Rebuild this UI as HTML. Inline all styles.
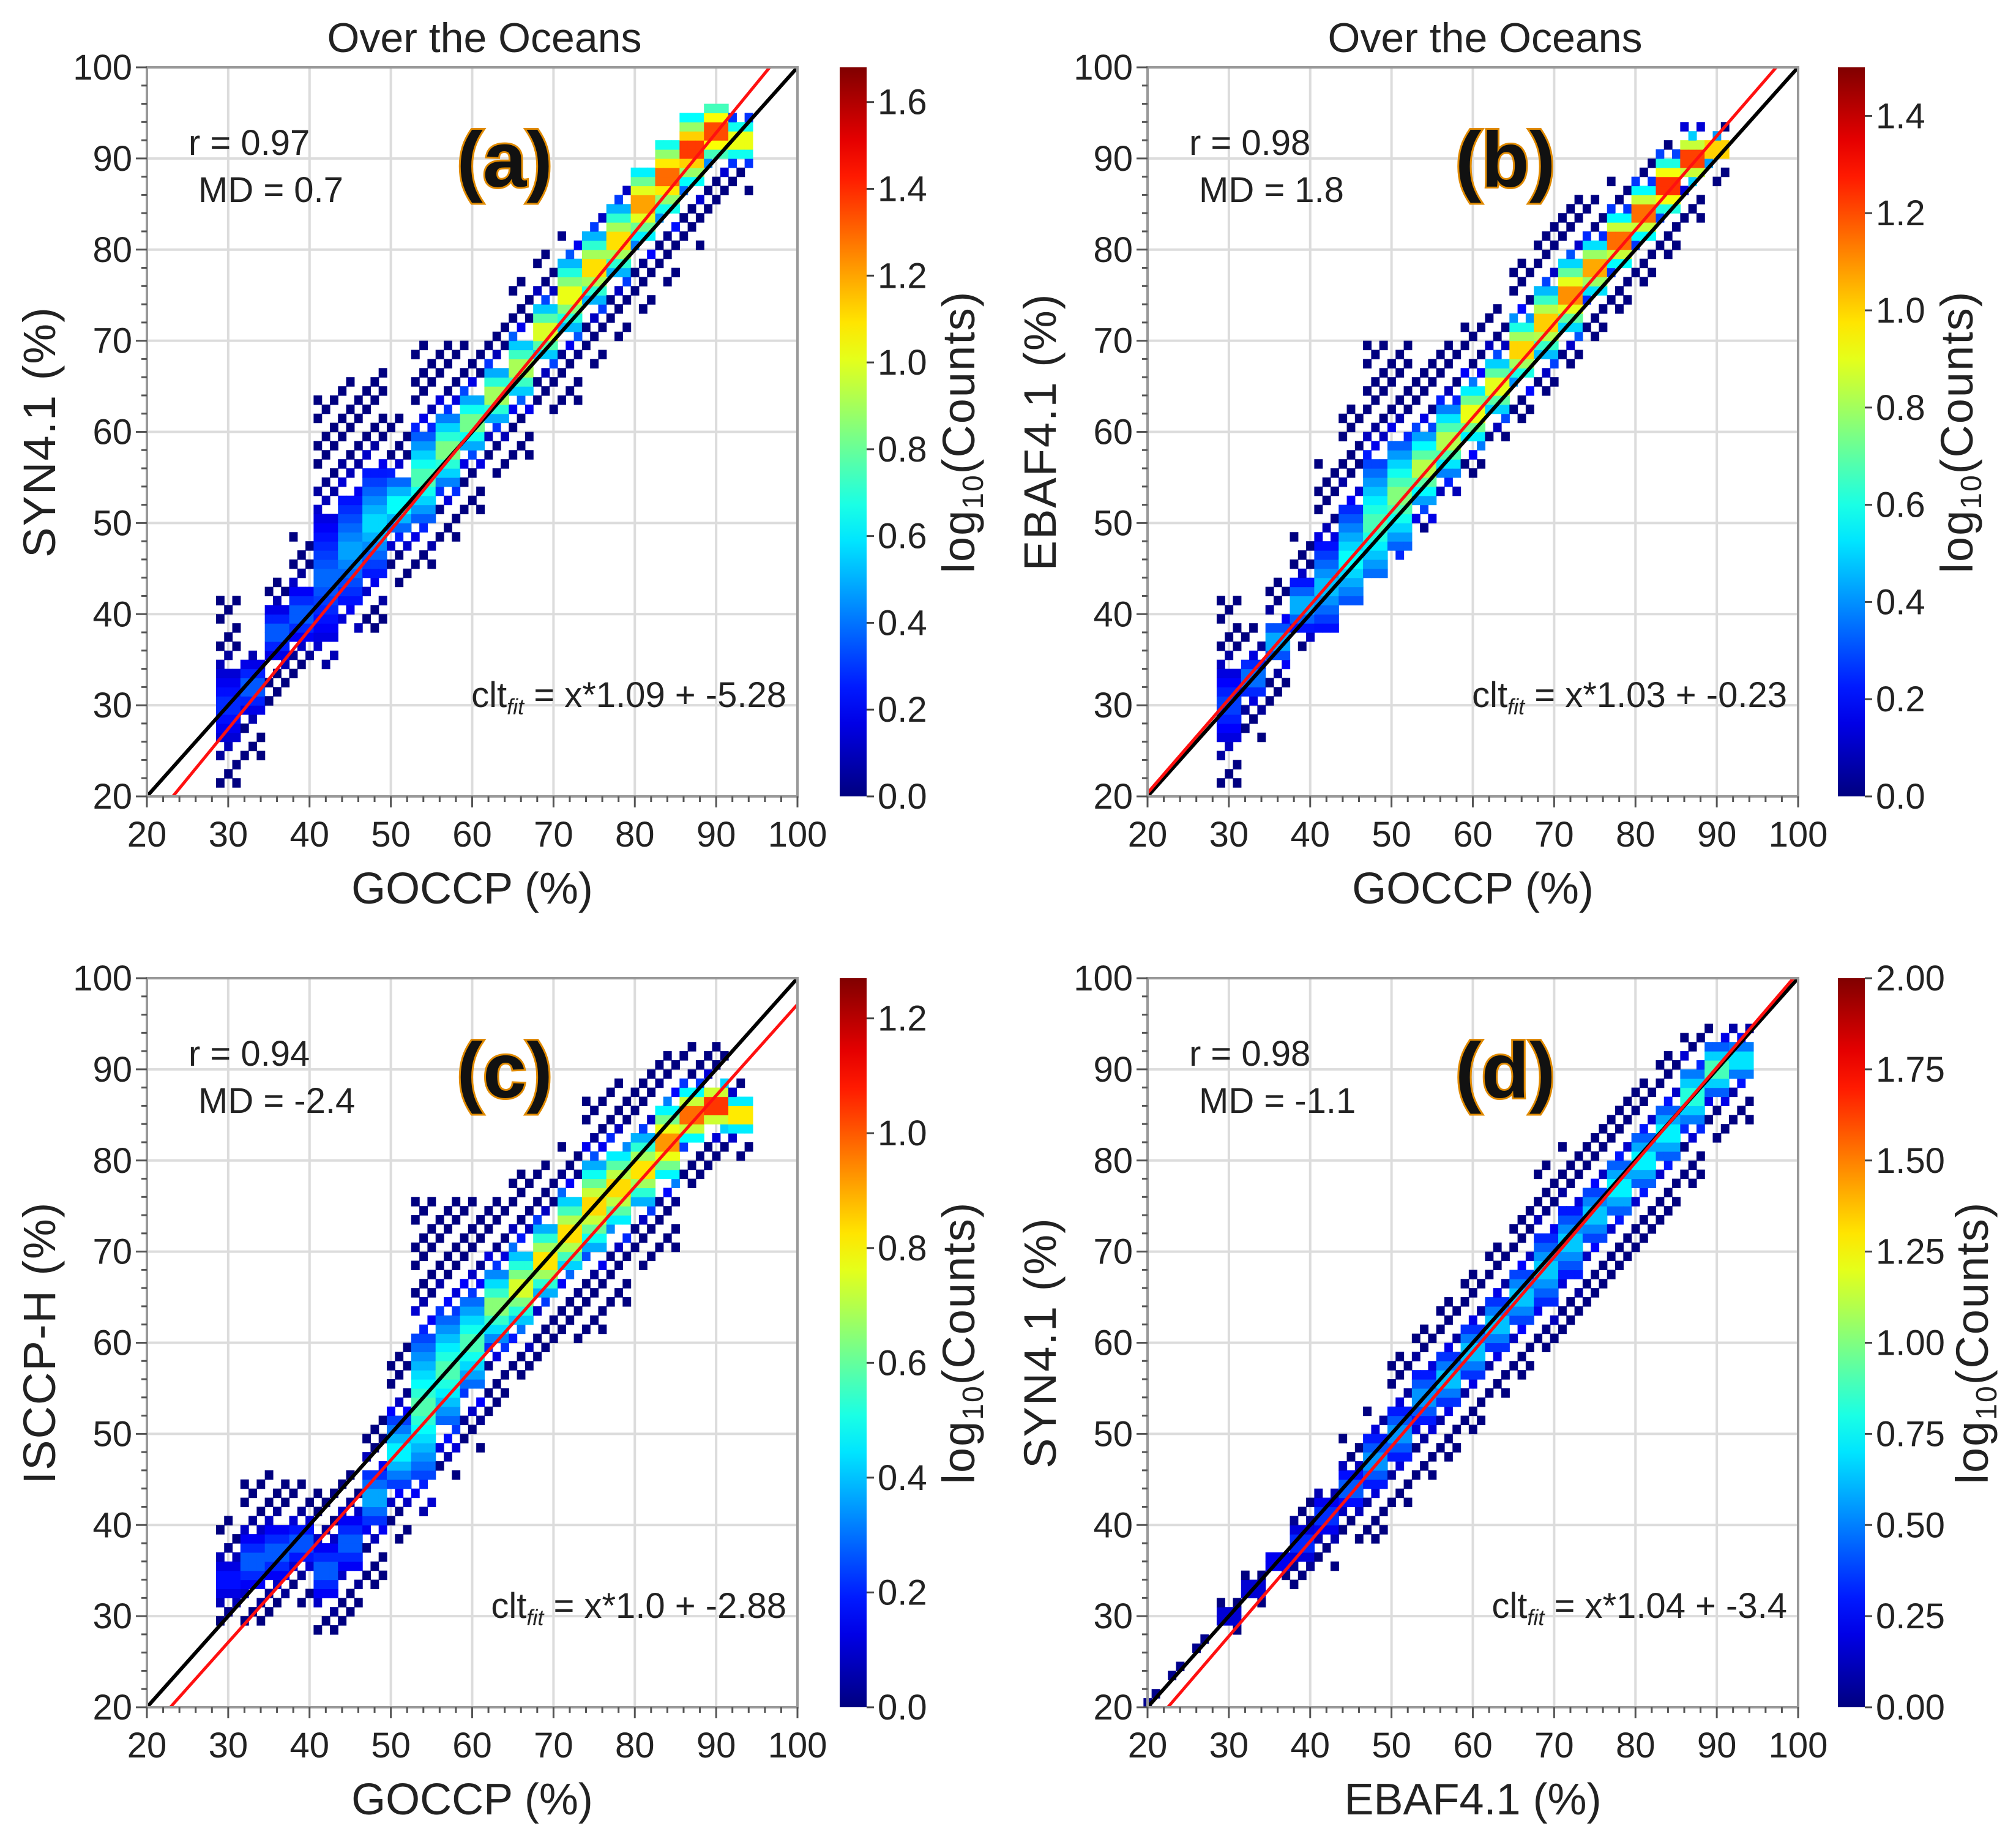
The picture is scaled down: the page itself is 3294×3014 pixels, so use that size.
<!DOCTYPE html>
<html><head><meta charset="utf-8">
<style>
html,body{margin:0;padding:0;background:#fff;}
svg text{font-family:"Liberation Sans Narrow","Liberation Sans",sans-serif;fill:#222;}
</style></head>
<body>
<svg id="fig" xmlns="http://www.w3.org/2000/svg" width="3294" height="3009" viewBox="0 0 3294 3009"></svg>
<script>
// ---- data: per-column summary of 2D histograms [x-bin centre], y low/high, ridge centre, peak log10(count)
const aX=[30,33,36,39,42,45,48,51,54,57,60,63,66,69,72,75,78,81,84,87,90,93];
const aLo=[21,24,30,33,34,38,38,43,45,48,51,55,57,62,63,67,70,73,76,80,84,86];
const aHi=[42,36,44,49,64,66,67,62,70,70,70,72,77,80,82,84,87,89,92,95,96,95];
const aMid=[30,32,38,40,44,47,50,52,55,58,61,64,67,71,75,78,81,85,88,91,93,92];
const aPeak=[0.3,0.4,0.4,0.4,0.4,0.5,0.6,0.7,0.8,0.9,0.9,1.0,1.0,1.1,1.1,1.2,1.2,1.3,1.4,1.5,1.5,1.2];

const bX=[30,33,36,39,42,45,48,51,54,57,60,63,66,69,72,75,78,81,84,87,90];
const bLo=[21,26,30,36,38,41,44,46,49,53,55,59,61,64,67,70,73,76,79,83,87];
const bHi=[42,39,44,49,57,63,70,70,68,70,72,74,79,83,86,86,88,90,92,94,94];
const bMid=[30,33,37,41,43,46,50,53,56,59,62,65,69,72,75,78,81,84,87,90,91];
const bPeak=[0.3,0.4,0.5,0.5,0.5,0.6,0.7,0.8,0.9,0.9,1.0,1.0,1.1,1.1,1.2,1.2,1.3,1.3,1.4,1.4,1.3];

const cX=[30,33,36,39,42,45,48,51,54,57,60,63,66,69,72,75,78,81,84,87,90,93];
const cLo=[29,29,30,31,28,29,33,38,41,45,48,52,56,58,60,61,64,68,70,77,79,80];
const cHi=[41,45,46,45,44,46,52,60,76,76,76,76,79,80,82,87,89,90,92,93,93,89];
const cMid=[34,36,37,38,35,38,43,48,53,57,60,64,66,69,72,75,77,79,82,85,86,85];
const cPeak=[0.2,0.3,0.3,0.3,0.3,0.3,0.4,0.5,0.6,0.6,0.6,0.7,0.8,0.9,0.9,0.9,0.9,0.9,1.0,1.1,1.2,1.0];

const dX=[21,24,27,30,33,36,39,42,45,48,51,54,57,60,63,66,69,72,75,78,81,84,87,90,93];
const dLo=[20,23,26,28,31,34,33,35,38,38,42,45,47,50,54,56,59,61,64,67,70,73,77,82,84];
const dHi=[22,25,28,32,35,37,43,44,50,53,59,62,65,68,71,75,80,82,84,87,89,92,94,95,95];
const dMid=[21,24,27,30,33,36,38,41,44,47,50,54,56,59,62,65,68,71,74,77,80,83,87,90,91];
const dPeak=[0.3,0.3,0.3,0.3,0.3,0.4,0.4,0.4,0.5,0.6,0.6,0.6,0.7,0.7,0.7,0.7,0.7,0.7,0.7,0.8,0.8,0.8,0.9,1.0,0.8];

const axisTicks=[20,30,40,50,60,70,80,90,100];
const cbTicksA=[0.0,0.2,0.4,0.6,0.8,1.0,1.2,1.4,1.6];
const cbTicksB=[0.0,0.2,0.4,0.6,0.8,1.0,1.2,1.4];
const cbTicksC=[0.0,0.2,0.4,0.6,0.8,1.0,1.2];
const cbTicksD=[0.00,0.25,0.50,0.75,1.00,1.25,1.50,1.75,2.00];
const cbMax=[1.68,1.5,1.27,2.0];
const fitSlope=[1.09,1.03,1.0,1.04];
const fitIcpt=[-5.28,-0.23,-2.88,-3.4];
const rVals=["0.97","0.98","0.94","0.98"];
const mdVals=["0.7","1.8","-2.4","-1.1"];
const fitLabels=["x*1.09 + -5.28","x*1.03 + -0.23","x*1.0 + -2.88","x*1.04 + -3.4"];
const panelLetters=["(a)","(b)","(c)","(d)"];
const yTitles=["SYN4.1 (%)","EBAF4.1 (%)","ISCCP-H (%)","SYN4.1 (%)"];
const xTitles=["GOCCP (%)","GOCCP (%)","GOCCP (%)","EBAF4.1 (%)"];

const NS="http://www.w3.org/2000/svg";
const svg=document.getElementById('fig');
function mk(tag,attrs,parent){const e=document.createElementNS(NS,tag);for(const k in attrs)e.setAttribute(k,attrs[k]);(parent||svg).appendChild(e);return e;}
function jet(t){t=Math.max(0,Math.min(1,t));
 const r=Math.max(0,Math.min(1,1.5-Math.abs(4*t-3)));
 const g=Math.max(0,Math.min(1,1.5-Math.abs(4*t-2)));
 const b=Math.max(0,Math.min(1,1.5-Math.abs(4*t-1)));
 return `rgb(${Math.round(r*255)},${Math.round(g*255)},${Math.round(b*255)})`;}

const layouts=[
 {L:240,T:110,cbx:1372},
 {L:1875,T:110,cbx:3003},
 {L:240,T:1598,cbx:1372},
 {L:1875,T:1598,cbx:3003}];
const W=1063,H=1191;
const series=[[aX,aLo,aHi,aMid,aPeak],[bX,bLo,bHi,bMid,bPeak],[cX,cLo,cHi,cMid,cPeak],[dX,dLo,dHi,dMid,dPeak]];
const cbt=[cbTicksA,cbTicksB,cbTicksC,cbTicksD];

layouts.forEach((lay,i)=>{
 const g=mk('g',{});
 
 
 const sx=v=>lay.L+(v-20)/80*W;
 const sy=v=>lay.T+H-(v-20)/80*H;
 axisTicks.forEach(t=>{
  const gl=mk('line',{x1:sx(t),x2:sx(t),y1:lay.T,y2:lay.T+H,stroke:'#dcdcdc','stroke-width':4},g);
  
  
  const gh=mk('line',{x1:lay.L,x2:lay.L+W,y1:sy(t),y2:sy(t),stroke:'#dcdcdc','stroke-width':4},g);
  
  
 });
 // heatmap
 const [X,Lo,Hi,Mid,Pk]=series[i];
 const step=X.length>1?X[1]-X[0]:3;
 X.forEach((xc,j)=>{
  const spread=Math.max(Hi[j]-Mid[j],Mid[j]-Lo[j],1)*0.55;
  let xi=0;
  for(let xv=xc-step/2;xv<xc+step/2;xv+=1,xi++){
   let yi=0;
   for(let yv=Lo[j];yv<Hi[j];yv+=1,yi++){
    const rel=Math.max(0,1-Math.abs(yv+0.5-Mid[j])/spread);
    const v=Pk[j]*rel;
    if(rel<0.4 && ((Math.round(xv)*7+yv*3)%5)>=2) continue;
    const c=mk('rect',{x:sx(xv),y:sy(yv+1),width:W/80+0.6,height:H/80+0.6,fill:jet(v/cbMax[i])},g);
    
    
   }
  }
 });
 const one=mk('line',{x1:sx(20),y1:sy(20),x2:sx(100),y2:sy(100),stroke:'#000','stroke-width':6},g);
 
 
 let x0=20,y0=fitSlope[i]*x0+fitIcpt[i]; if(y0<20){x0=(20-fitIcpt[i])/fitSlope[i];y0=20;}
 let x1=100,y1=fitSlope[i]*x1+fitIcpt[i]; if(y1>100){x1=(100-fitIcpt[i])/fitSlope[i];y1=100;}
 const fl=mk('line',{x1:sx(x0),y1:sy(y0),x2:sx(x1),y2:sy(y1),stroke:'#ff1010','stroke-width':5},g);
 
 
 const fr=mk('rect',{x:lay.L,y:lay.T,width:W,height:H,fill:'none',stroke:'#999','stroke-width':4},g);
 
 
 for(let t=20;t<=100;t+=2){
  const big=t%10===0, len=big?18:9;
  mk('line',{x1:sx(t),x2:sx(t),y1:lay.T+H,y2:lay.T+H+len,stroke:'#555','stroke-width':3},g);
  mk('line',{x1:lay.L,x2:lay.L-len,y1:sy(t),y2:sy(t),stroke:'#555','stroke-width':3},g);
 }
 axisTicks.forEach(t=>{
  const tx=mk('text',{x:sx(t),y:lay.T+H+82,'font-size':58,'text-anchor':'middle'},g);tx.textContent=t;
  
  
  const ty=mk('text',{x:lay.L-24,y:sy(t)+20,'font-size':58,'text-anchor':'end'},g);ty.textContent=t;
  
  
 });
 const xt=mk('text',{x:lay.L+W/2,y:lay.T+H+175,'font-size':72,'text-anchor':'middle'},g);xt.textContent=xTitles[i];
 
 
 const ycx=lay.L-150, ycy=lay.T+H/2;
 const yt=mk('text',{x:ycx,y:ycy,'font-size':74,'text-anchor':'middle',transform:`rotate(-90 ${ycx} ${ycy})`,style:'font-family:"Liberation Sans",sans-serif;letter-spacing:2px'},g);yt.textContent=yTitles[i];
 
 
 if(i<2){const tt=mk('text',{x:lay.L+W/2+20,y:lay.T-25,'font-size':68,'text-anchor':'middle'},g);tt.textContent='Over the Oceans';
  
  }
 const r=mk('text',{x:lay.L+68,y:lay.T+143,'font-size':58},g);r.textContent='r = '+rVals[i];
 
 
 const md=mk('text',{x:lay.L+84,y:lay.T+220,'font-size':58},g);md.textContent='MD = '+mdVals[i];
 
 
 const pl=mk('text',{x:lay.L+W*0.55,y:lay.T+195,'font-size':128,'font-weight':'bold','text-anchor':'middle',stroke:'#e08a00','stroke-width':6,'paint-order':'stroke',style:'fill:#111'},g);pl.textContent=panelLetters[i];
 
 
 const ft=mk('text',{x:lay.L+W-18,y:lay.T+1045,'font-size':58,'text-anchor':'end'},g);
 
 
 const s1=mk('tspan',{},ft);s1.textContent='clt';
 const s2=mk('tspan',{'font-size':36,'font-style':'italic',dy:12},ft);s2.textContent='fit';
 const s3=mk('tspan',{dy:-12},ft);s3.textContent=' = '+fitLabels[i];
 const cbw=44;
 const gid='cbg'+i;
 const defs=mk('defs',{},g);
 const lg=mk('linearGradient',{id:gid,x1:0,y1:1,x2:0,y2:0},defs);
 for(let k=0;k<=20;k++){mk('stop',{offset:k/20,'stop-color':jet(k/20)},lg);}
 const cb=mk('rect',{x:lay.cbx,y:lay.T,width:cbw,height:H,fill:`url(#${gid})`},g);
 
 
 cbt[i].forEach(t=>{
  const yy=lay.T+H-t/cbMax[i]*H;
  mk('line',{x1:lay.cbx+cbw,x2:lay.cbx+cbw+12,y1:yy,y2:yy,stroke:'#444','stroke-width':3},g);
  const ct=mk('text',{x:lay.cbx+cbw+18,y:yy+20,'font-size':58},g);
  ct.textContent=(i===3?t.toFixed(2):t.toFixed(1));
  
  
 });
 const clx=lay.cbx+(i===3?245:220), cly=lay.T+H/2;
 const cl=mk('text',{x:clx,y:cly,'font-size':74,'text-anchor':'middle',transform:`rotate(-90 ${clx} ${cly})`,style:'font-family:"Liberation Sans",sans-serif;letter-spacing:2px'},g);
 
 
 const c1=mk('tspan',{},cl);c1.textContent='log';
 const c2=mk('tspan',{'font-size':48,dy:14},cl);c2.textContent='10';
 const c3=mk('tspan',{dy:-14},cl);c3.textContent='(Counts)';
});
</script>
</body></html>
